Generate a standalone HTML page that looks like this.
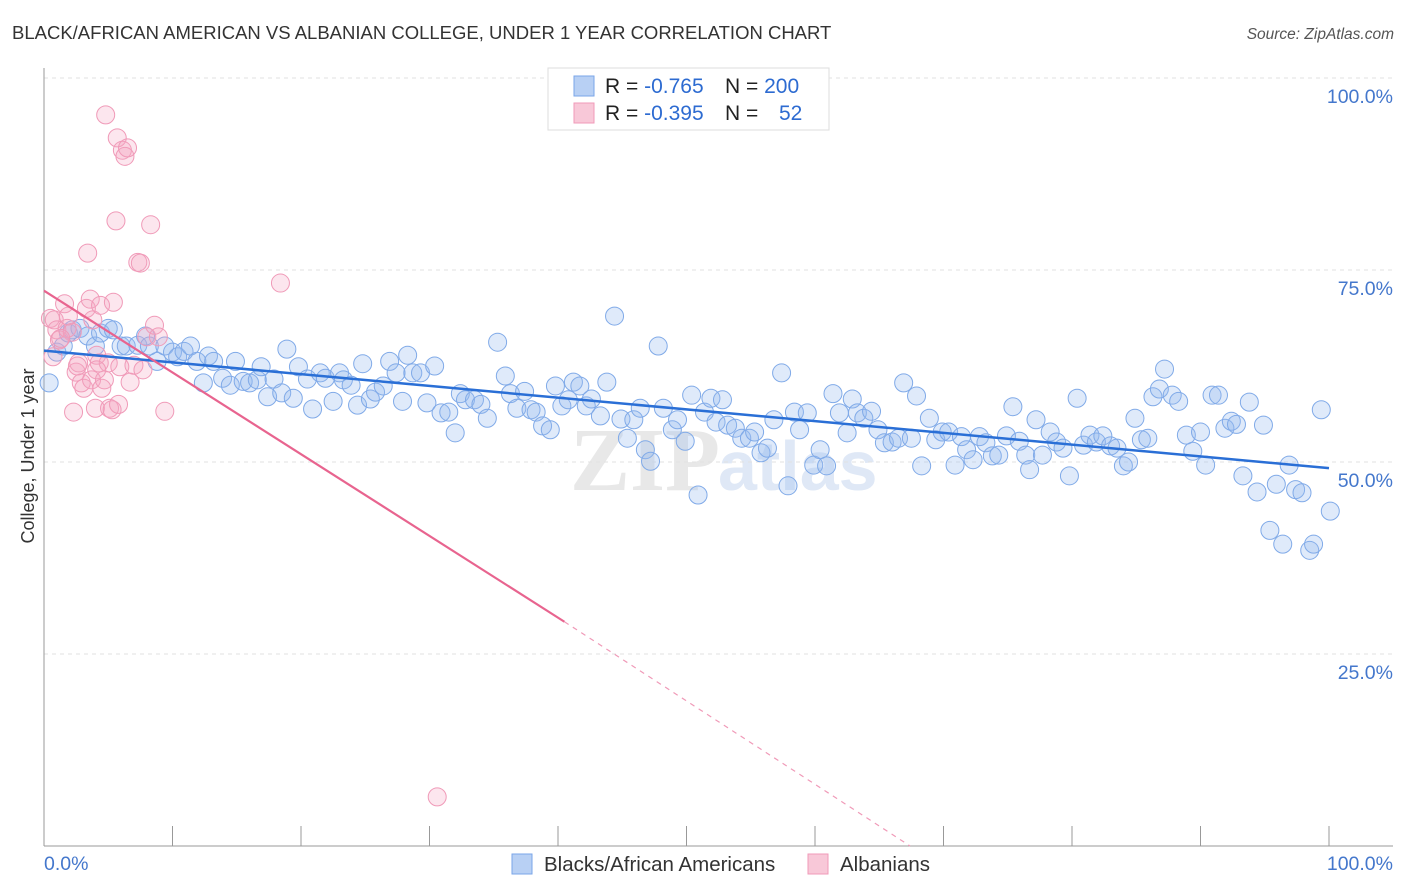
<!DOCTYPE html>
<html><head><meta charset="utf-8"><style>
body{margin:0;background:#fff;font-family:"Liberation Sans",sans-serif}
svg{display:block}
</style></head><body>
<svg id="chart" width="1406" height="892" viewBox="0 0 1406 892">
<text x="12" y="39" font-size="18.5" fill="#333">BLACK/AFRICAN AMERICAN VS ALBANIAN COLLEGE, UNDER 1 YEAR CORRELATION CHART</text>
<text x="1394" y="39" font-size="15.5" fill="#555" font-style="italic" text-anchor="end">Source: ZipAtlas.com</text>
<text x="720" y="490" font-size="90" fill="#e8e8e8" font-family="Liberation Serif" font-weight="bold" text-anchor="end">ZIP</text>
<text x="718" y="490" font-size="70" fill="#dfe8f6" font-weight="bold">atlas</text>
<g id="grid"></g>
<g id="axes"></g>
<g id="pts"></g>
<g id="lines"></g>
<text transform="translate(34,456) rotate(-90)" font-size="18" fill="#333" text-anchor="middle">College, Under 1 year</text>
<g>
<rect x="548" y="68" width="281" height="62" fill="#fff" stroke="#ddd"/>
<rect x="574" y="76" width="20" height="20" fill="#b8d0f4" stroke="#7aa6e8"/>
<text x="605" y="93" font-size="21" fill="#222">R = <tspan fill="#2d6bd1">-0.765</tspan><tspan x="725">N = </tspan><tspan fill="#2d6bd1">200</tspan></text>
<rect x="574" y="103" width="20" height="20" fill="#f8c8d8" stroke="#f09ab8"/>
<text x="605" y="120" font-size="21" fill="#222">R = <tspan fill="#2d6bd1">-0.395</tspan><tspan x="725">N = </tspan><tspan x="779" fill="#2d6bd1">52</tspan></text>
</g>
<g>
<rect x="512" y="854" width="20" height="20" fill="#b8d0f4" stroke="#7aa6e8"/>
<text x="544" y="871" font-size="20.5" fill="#333">Blacks/African Americans</text>
<rect x="808" y="854" width="20" height="20" fill="#f8c8d8" stroke="#f09ab8"/>
<text x="840" y="871" font-size="20.5" fill="#333">Albanians</text>
</g>
</svg>
<script>
const blueX=[0.4,1.0,1.5,1.9,2.2,2.8,3.4,4.0,4.4,5.0,5.4,6.0,6.4,7.3,7.9,8.2,8.8,9.4,10.0,10.4,10.9,11.4,11.9,12.4,12.8,13.2,13.9,14.5,14.9,15.5,16.0,16.6,16.9,17.4,17.9,18.5,18.9,19.4,19.8,20.5,20.9,21.5,21.9,22.5,23.0,23.3,23.9,24.4,24.8,25.4,25.8,26.4,26.9,27.4,27.9,28.3,28.7,29.3,29.8,30.4,30.9,31.5,32.0,32.4,32.8,33.5,34.0,34.5,35.3,35.9,36.3,36.8,37.4,37.9,38.3,38.8,39.4,39.8,40.3,40.8,41.2,41.7,42.2,42.6,43.3,43.8,44.4,44.9,45.4,45.9,46.4,46.8,47.2,47.8,48.2,48.9,49.3,49.9,50.4,50.9,51.4,51.9,52.3,52.8,53.2,53.8,54.3,54.9,55.3,55.8,56.3,56.8,57.4,57.9,58.4,58.8,59.4,59.9,60.4,60.9,61.4,61.9,62.5,62.9,63.3,63.8,64.4,64.9,65.4,66.0,66.5,66.9,67.5,67.9,68.3,68.9,69.4,69.9,70.4,70.9,71.4,71.8,72.3,72.8,73.3,73.8,74.3,74.9,75.4,75.9,76.4,76.7,77.2,77.7,78.3,78.8,79.3,79.8,80.4,80.9,81.4,81.9,82.4,83.0,83.5,84.0,84.4,84.9,85.4,85.9,86.3,86.8,87.2,87.8,88.3,88.9,89.4,90.0,90.4,90.9,91.4,91.9,92.4,92.8,93.3,93.8,94.4,94.9,95.4,95.9,96.4,96.9,97.4,97.9,98.5,98.8,99.4,100.1];
const blueY=[60.3,64.3,65.1,66.8,67.2,67.4,66.4,65.1,66.8,67.4,67.2,65.1,65.1,65.2,66.4,65.1,63.1,65.1,64.3,63.7,64.4,65.1,63.1,60.3,63.8,63.1,60.9,60.0,63.1,60.5,60.3,60.7,62.4,58.5,60.8,59.0,64.7,58.3,62.4,60.8,56.9,61.6,60.9,57.9,61.6,60.7,60.0,57.4,62.8,58.2,59.1,59.9,63.1,61.6,57.9,63.9,61.6,61.6,57.7,62.5,56.4,56.5,53.8,58.9,58.1,58.1,57.5,55.7,65.6,61.2,58.9,57.0,59.2,56.8,56.5,54.7,54.2,59.9,57.3,58.1,60.4,59.9,57.3,58.2,56.0,60.4,69.0,55.6,53.1,55.5,57.0,51.6,50.1,65.1,57.0,54.2,55.5,52.7,58.7,45.7,56.5,58.3,55.2,58.1,54.8,54.4,53.1,53.1,53.9,51.2,51.8,55.5,61.6,46.9,56.5,54.2,56.4,49.6,51.6,49.5,58.9,56.4,53.8,58.2,56.4,55.7,56.6,54.2,52.5,52.6,53.1,60.3,53.1,58.6,49.5,55.7,52.9,53.9,53.9,49.6,53.3,51.6,50.3,53.3,52.5,50.8,50.9,53.4,57.2,52.7,50.9,49.0,55.5,50.9,53.9,52.6,51.8,48.2,58.3,52.2,53.5,52.6,53.4,52.1,51.8,49.5,50.0,55.7,52.9,53.1,58.5,59.5,62.1,58.7,57.9,53.5,51.4,53.9,49.6,58.7,58.7,54.4,55.3,54.9,48.2,57.8,46.1,54.8,41.1,47.1,39.3,49.6,46.4,46.0,38.5,39.3,56.8,43.6];
const pinkX=[0.5,0.8,1.0,1.2,1.6,1.8,1.9,2.2,2.3,2.5,2.7,2.9,3.1,3.3,3.4,3.6,3.7,3.8,4.0,4.1,4.3,4.4,4.5,4.7,4.8,5.0,5.1,5.3,5.4,5.6,5.7,5.8,5.9,6.1,6.3,6.5,6.7,7.0,7.3,7.5,7.7,8.0,8.3,8.6,8.9,9.4,18.4,30.6,0.7,1.3,2.6,4.1];
const pinkY=[68.7,68.5,67.2,65.9,70.6,67.4,69.0,66.9,56.5,61.7,62.9,60.3,59.6,70.0,77.2,71.2,60.7,68.5,57.0,63.9,62.9,70.4,59.6,60.7,95.2,62.9,57.0,56.8,70.8,81.4,92.2,57.5,62.4,90.6,89.8,90.9,60.4,62.6,76.0,75.9,62.0,66.3,80.9,67.8,66.3,56.6,73.3,6.4,63.7,66.1,62.5,62.0];
const blueTrendX=[0,100];
const blueTrendY=[64.5,49.2];
const pinkTrendX=[0,40.5,67.4];
const pinkTrendY=[72.3,29.2,0];
const yTicks=[100,75,50,25];
const yTickLabels=["100.0%","75.0%","50.0%","25.0%"];
const xTicks=[0,10,20,30,40,50,60,70,80,90,100];

const NS="http://www.w3.org/2000/svg";
const X0=44,X1=1329,Y0=846,Y100=78;
const sx=v=>X0+(X1-X0)*v/100;
const sy=v=>Y0-(Y0-Y100)*v/100;
function mk(tag,attrs,parent){const e=document.createElementNS(NS,tag);for(const k in attrs)e.setAttribute(k,attrs[k]);parent.appendChild(e);return e;}
const grid=document.getElementById('grid'),axes=document.getElementById('axes'),pts=document.getElementById('pts'),lines=document.getElementById('lines');
yTicks.forEach((t,i)=>{
  const l=mk('line',{x1:X0,x2:1393,y1:sy(t),y2:sy(t),stroke:'#e2e2e2','stroke-dasharray':'4,4'},grid);
  
  
  const tx=mk('text',{x:1393,y:sy(t)+25,'font-size':19.5,fill:'#4477cc','text-anchor':'end'},axes);
  tx.textContent=yTickLabels[i];
  
  
});
const ya=mk('line',{x1:X0,x2:X0,y1:68,y2:Y0,stroke:'#999'},axes);


const xa=mk('line',{x1:X0,x2:1393,y1:Y0,y2:Y0,stroke:'#999'},axes);


xTicks.forEach(t=>{
  const l=mk('line',{x1:sx(t),x2:sx(t),y1:Y0-20,y2:Y0,stroke:'#999'},axes);
  
  
});
const xl0=mk('text',{x:44,y:870,'font-size':19.5,fill:'#4477cc'},axes);xl0.textContent='0.0%';


const xl1=mk('text',{x:1393,y:870,'font-size':19.5,fill:'#4477cc','text-anchor':'end'},axes);xl1.textContent='100.0%';


blueX.forEach((x,i)=>{
  const c=mk('circle',{cx:sx(x),cy:sy(blueY[i]),r:9,fill:'rgba(150,185,240,0.3)',stroke:'#80aae8','stroke-width':1},pts);
  
  
});
pinkX.forEach((x,i)=>{
  const c=mk('circle',{cx:sx(x),cy:sy(pinkY[i]),r:9,fill:'rgba(245,165,195,0.28)',stroke:'#f09ab8','stroke-width':1},pts);
  
  
});
const bl=mk('line',{x1:sx(blueTrendX[0]),y1:sy(blueTrendY[0]),x2:sx(blueTrendX[1]),y2:sy(blueTrendY[1]),stroke:'#2a6fd6','stroke-width':2.5},lines);


const pl=mk('line',{x1:sx(pinkTrendX[0]),y1:sy(pinkTrendY[0]),x2:sx(pinkTrendX[1]),y2:sy(pinkTrendY[1]),stroke:'#e8648f','stroke-width':2.2},lines);


const pd=mk('line',{x1:sx(pinkTrendX[1]),y1:sy(pinkTrendY[1]),x2:sx(pinkTrendX[2]),y2:sy(pinkTrendY[2]),stroke:'#f09ab8','stroke-width':1.2,'stroke-dasharray':'5,5'},lines);


</script>
</body></html>
